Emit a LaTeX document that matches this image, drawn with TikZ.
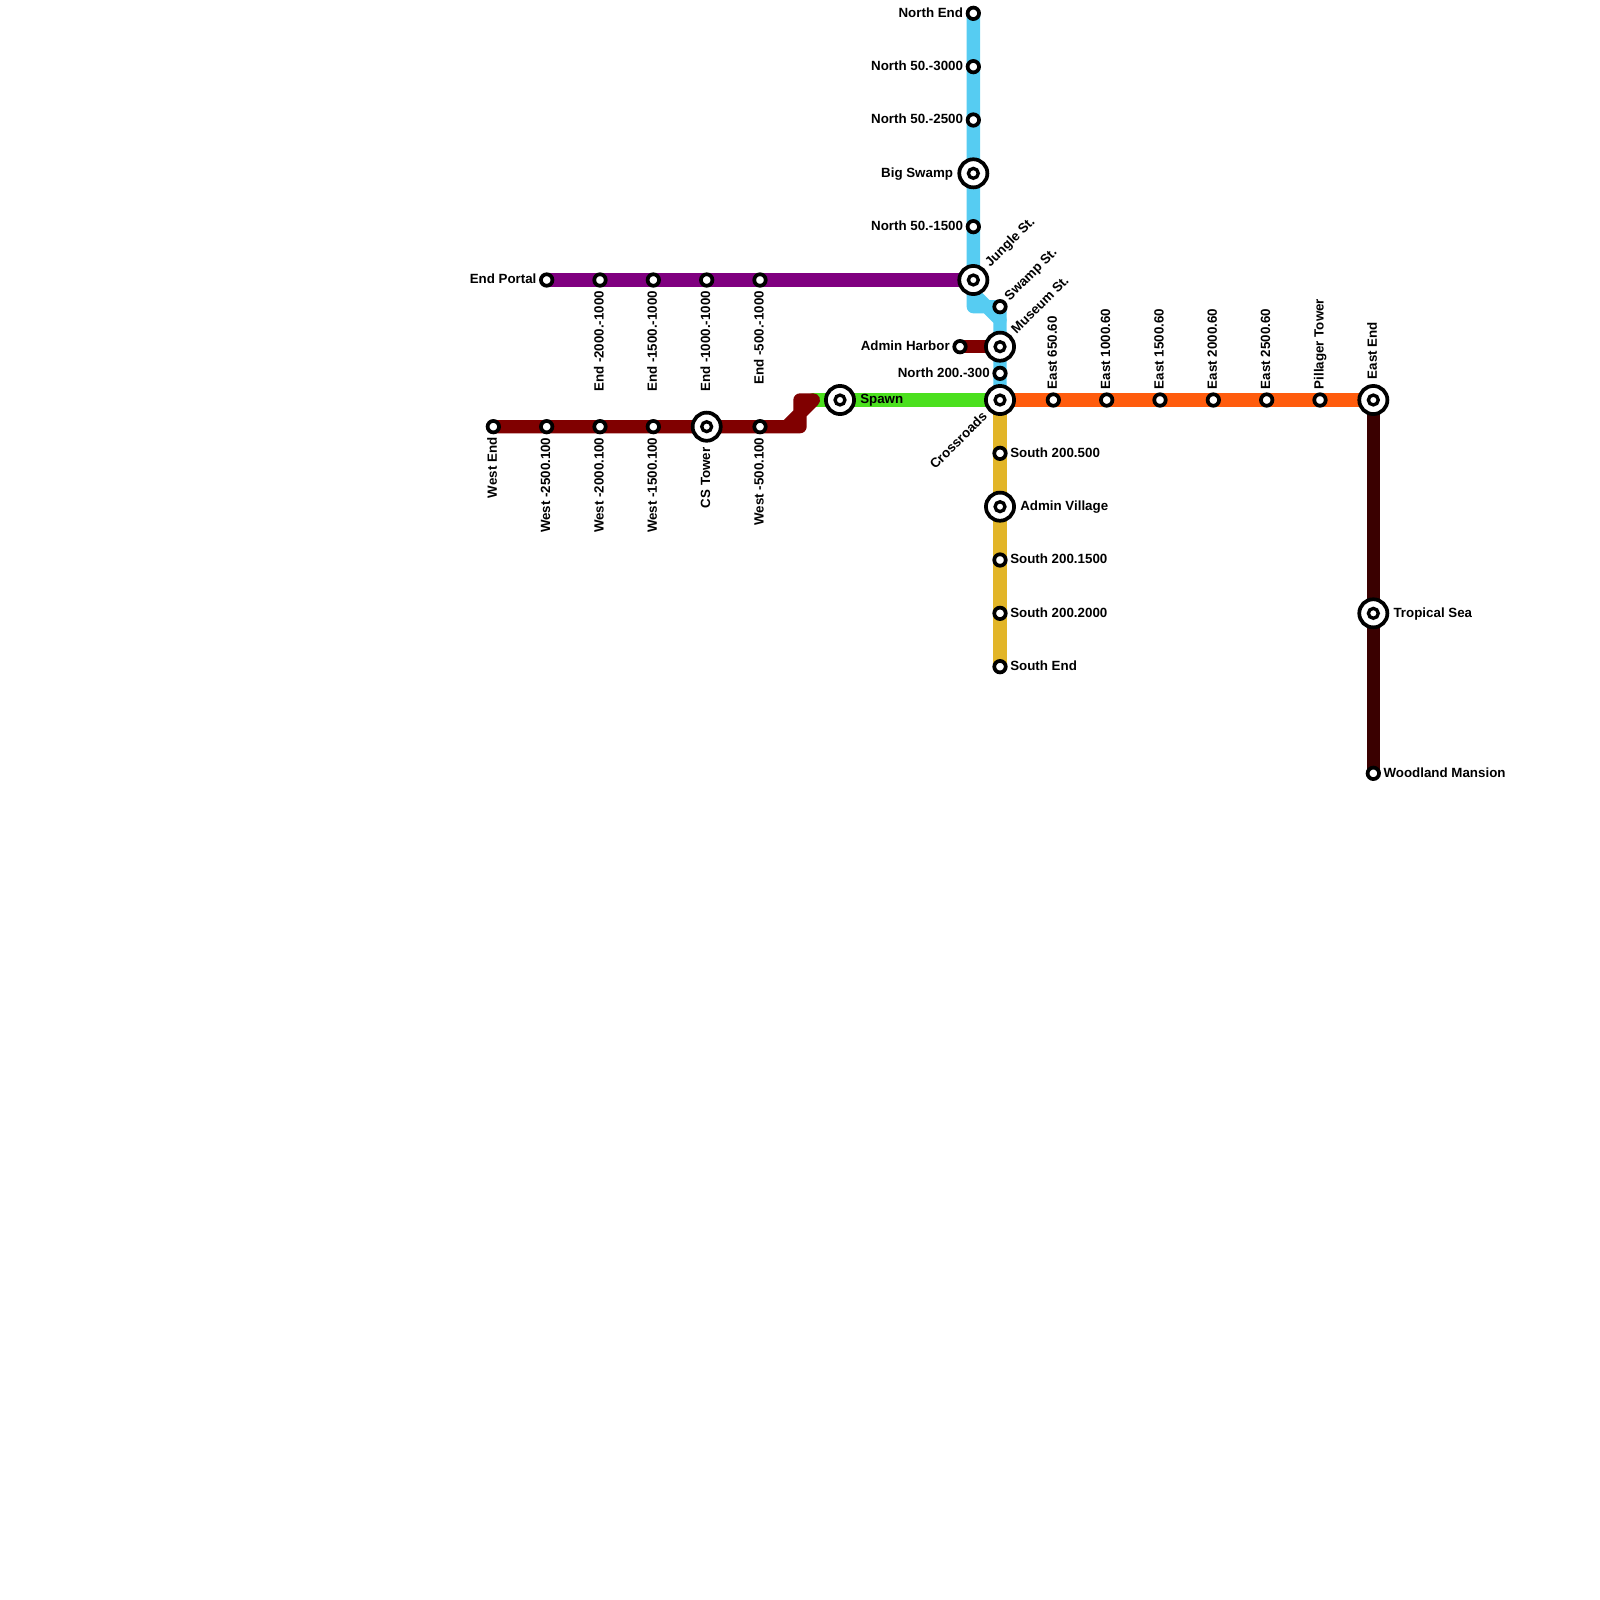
\documentclass[tikz,border=0pt]{standalone}
\usepackage{fontspec}
\setmainfont{Liberation Sans}
\usepackage{xcolor}
\usetikzlibrary{backgrounds}
\definecolor{lineNorth}{HTML}{56CCF2}
\definecolor{lineEnd}{HTML}{800080}
\definecolor{lineWest}{HTML}{800000}
\definecolor{lineSpawn}{HTML}{4BE01E}
\definecolor{lineEast}{HTML}{FF5C0D}
\definecolor{lineSouth}{HTML}{E2B528}
\definecolor{lineMansion}{HTML}{3A0000}
\tikzset{
	metro/.style={line width=10pt, line cap=round, line join=round},
	stn/.style={circle, draw=black, fill=white, line width=2.8pt, minimum size=8.6pt, inner sep=0pt},
	hub/.style={circle, draw=black, fill=white, line width=2.8pt, minimum size=21.1pt, inner sep=0pt,
		path picture={\draw[line width=2.5pt] (path picture bounding box.center) circle (3.7pt);}},
	txt/.style={inner sep=0pt, text=black, font=\fontsize{10pt}{12pt}\bfseries\selectfont},
}

\begin{document}
\begin{tikzpicture}[x=0.75pt,y=0.75pt,yscale=-1,xscale=1]
	\useasboundingbox (0,0) rectangle (1600,1600);

	%Stations: north line
	\node [stn] (sNorthEnd) at (973.33,13.33) {};
	\node [stn] (sNorth3000) at (973.33,66.67) {};
	\node [stn] (sNorth2500) at (973.33,120) {};
	\node [hub] (sBigSwamp) at (973.33,173.33) {};
	\node [stn] (sNorth1500) at (973.33,226.67) {};
	\node [hub] (sJungle) at (973.33,280) {};
	\node [stn] (sSwamp) at (1000,306.67) {};
	\node [hub] (sMuseum) at (1000,346.67) {};
	\node [stn] (sNorth300) at (1000,373.33) {};
	\node [hub] (sCrossroads) at (1000,400) {};
	\node [stn] (sHarbor) at (960,346.67) {};
	%Stations: end line
	\node [stn] (sEndPortal) at (546.67,280) {};
	\node [stn] (sEnd2000) at (600,280) {};
	\node [stn] (sEnd1500) at (653.33,280) {};
	\node [stn] (sEnd1000) at (706.67,280) {};
	\node [stn] (sEnd500) at (760,280) {};
	%Stations: west line
	\node [stn] (sWestEnd) at (493.33,426.67) {};
	\node [stn] (sWest2500) at (546.67,426.67) {};
	\node [stn] (sWest2000) at (600,426.67) {};
	\node [stn] (sWest1500) at (653.33,426.67) {};
	\node [hub] (sCSTower) at (706.67,426.67) {};
	\node [stn] (sWest500) at (760,426.67) {};
	\node [hub] (sSpawn) at (840,400) {};
	%Stations: east line
	\node [stn] (sEast650) at (1053.33,400) {};
	\node [stn] (sEast1000) at (1106.67,400) {};
	\node [stn] (sEast1500) at (1160,400) {};
	\node [stn] (sEast2000) at (1213.33,400) {};
	\node [stn] (sEast2500) at (1266.67,400) {};
	\node [stn] (sPillager) at (1320,400) {};
	\node [hub] (sEastEnd) at (1373.33,400) {};
	\node [hub] (sTropical) at (1373.33,613.33) {};
	\node [stn] (sMansion) at (1373.33,773.33) {};
	%Stations: south line
	\node [stn] (sSouth500) at (1000,453.33) {};
	\node [hub] (sVillage) at (1000,506.67) {};
	\node [stn] (sSouth1500) at (1000,560) {};
	\node [stn] (sSouth2000) at (1000,613.33) {};
	\node [stn] (sSouthEnd) at (1000,666.67) {};

	%Bends
	\coordinate (bBlueA) at (973.33,293.33);
	\coordinate (bBlueB) at (973.33,306.67);
	\coordinate (bBlueC) at (986.67,306.67);
	\coordinate (bBlueD) at (1000,320);
	\coordinate (bRedA) at (786.67,426.67);
	\coordinate (bRedB) at (800,426.67);
	\coordinate (bRedC) at (800,413.33);
	\coordinate (bRedD) at (800,400);
	\coordinate (bRedE) at (813.33,400);

	%Straight Lines
	\begin{scope}[on background layer]
		\draw [metro, lineSpawn] (bRedE) -- (sCrossroads.center);
		\draw [metro, lineWest] (sWestEnd.center) -- (bRedA) -- (bRedC) -- (bRedD) -- (bRedE) -- (bRedC) -- (bRedB) -- (bRedA);
		\draw [metro, lineWest] (sHarbor.center) -- (sMuseum.center);
		\draw [metro, lineEnd] (sEndPortal.center) -- (sJungle.center);
		\draw [metro, lineNorth] (sNorthEnd.center) -- (bBlueB) -- (bBlueC) -- (bBlueD) -- (sCrossroads.center);
		\draw [metro, lineNorth] (bBlueA) -- (bBlueC) -- (sSwamp.center) -- (bBlueD);
		\draw [metro, lineEast] (sCrossroads.center) -- (sEastEnd.center);
		\draw [metro, lineSouth] (sCrossroads.center) -- (sSouthEnd.center);
		\draw [metro, lineMansion] (sEastEnd.center) -- (sMansion.center);
	\end{scope}

	% Text Node
	\node [txt, anchor=base east] (tNorthEnd) at (963.3,17.1) {North End};
	\node [txt, anchor=base east] (tNorth3000) at (963.3,70.5) {North 50.-3000};
	\node [txt, anchor=base east] (tNorth2500) at (963.3,123.8) {North 50.-2500};
	\node [txt, anchor=base east] (tBigSwamp) at (953.3,177.1) {Big Swamp};
	\node [txt, anchor=base east] (tNorth1500) at (963.3,230.5) {North 50.-1500};
	\node [txt, anchor=base west, rotate=45] (tJungle) at (990.2,267.7) {Jungle St.};
	\node [txt, anchor=base west, rotate=45] (tSwamp) at (1009.7,301.2) {Swamp St.};
	\node [txt, anchor=base west, rotate=45] (tMuseum) at (1016.5,334.5) {Museum St.};
	\node [txt, anchor=base east] (tHarbor) at (950,350.5) {Admin Harbor};
	\node [txt, anchor=base east] (tNorth300) at (990,377.1) {North 200.-300};
	\node [txt, anchor=base east, rotate=45] (tCrossroads) at (988,417.4) {Crossroads};
	% Text Node
	\node [txt, anchor=base east] (tEndPortal) at (536.7,283.8) {End Portal};
	\node [txt, anchor=base east, rotate=90] (tEnd2000) at (603.5,290.7) {End -2000.-1000};
	\node [txt, anchor=base east, rotate=90] (tEnd1500) at (656.8,290.7) {End -1500.-1000};
	\node [txt, anchor=base east, rotate=90] (tEnd1000) at (710.2,290.7) {End -1000.-1000};
	\node [txt, anchor=base east, rotate=90] (tEnd500) at (763.5,290.7) {End -500.-1000};
	% Text Node
	\node [txt, anchor=base east, rotate=90] (tWestEnd) at (496.8,437.3) {West End};
	\node [txt, anchor=base east, rotate=90] (tWest2500) at (550.2,437.3) {West -2500.100};
	\node [txt, anchor=base east, rotate=90] (tWest2000) at (603.5,437.3) {West -2000.100};
	\node [txt, anchor=base east, rotate=90] (tWest1500) at (656.8,437.3) {West -1500.100};
	\node [txt, anchor=base east, rotate=90] (tCSTower) at (710.2,447.3) {CS Tower};
	\node [txt, anchor=base east, rotate=90] (tWest500) at (763.5,437.3) {West -500.100};
	\node [txt, anchor=base west] (tSpawn) at (860,403.8) {Spawn};
	% Text Node
	\node [txt, anchor=base west, rotate=90] (tEast650) at (1056.8,389.3) {East 650.60};
	\node [txt, anchor=base west, rotate=90] (tEast1000) at (1110.2,389.3) {East 1000.60};
	\node [txt, anchor=base west, rotate=90] (tEast1500) at (1163.5,389.3) {East 1500.60};
	\node [txt, anchor=base west, rotate=90] (tEast2000) at (1216.8,389.3) {East 2000.60};
	\node [txt, anchor=base west, rotate=90] (tEast2500) at (1270.2,389.3) {East 2500.60};
	\node [txt, anchor=base west, rotate=90] (tPillager) at (1323.5,389.3) {Pillager Tower};
	\node [txt, anchor=base west, rotate=90] (tEastEnd) at (1376.8,379.3) {East End};
	\node [txt, anchor=base west] (tTropical) at (1393.3,617.1) {Tropical Sea};
	\node [txt, anchor=base west] (tMansion) at (1383.3,777.1) {Woodland Mansion};
	% Text Node
	\node [txt, anchor=base west] (tSouth500) at (1010,457.1) {South 200.500};
	\node [txt, anchor=base west] (tVillage) at (1020,510.5) {Admin Village};
	\node [txt, anchor=base west] (tSouth1500) at (1010,563.8) {South 200.1500};
	\node [txt, anchor=base west] (tSouth2000) at (1010,617.1) {South 200.2000};
	\node [txt, anchor=base west] (tSouthEnd) at (1010,670.5) {South End};
\end{tikzpicture}
\end{document}
